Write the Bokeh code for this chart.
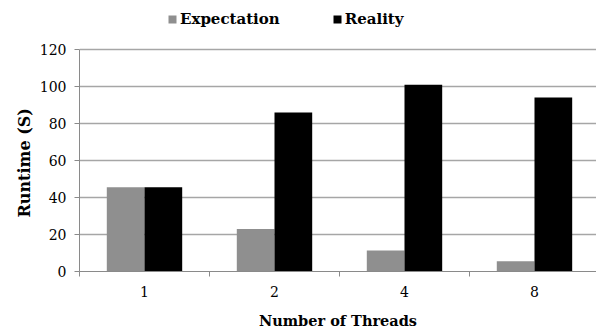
from bokeh.plotting import figure
from bokeh.models import ColumnDataSource, Range1d, FixedTicker, Legend, LegendItem, Title
from bokeh.embed import file_html
from bokeh.resources import INLINE

categories = ["1", "2", "4", "8"]
expectation = [45.5, 23.0, 11.3, 5.6]
reality = [45.5, 86.0, 101.0, 94.0]
y_ticks = [0, 20, 40, 60, 80, 100, 120]

FONT = "DejaVu Serif"
idx = list(range(len(categories)))
centers = [i + 0.5 for i in idx]
src = ColumnDataSource(dict(
    x_exp=[c - 0.145 for c in centers],
    x_real=[c + 0.145 for c in centers],
    exp=expectation,
    real=reality,
))

p = figure(width=596, height=335, output_backend="svg", toolbar_location=None,
           x_range=Range1d(0, 3.977), y_range=Range1d(0, 146.5),
           min_border_left=79, min_border_right=0, min_border_bottom=64,
           min_border_top=0)
p.outline_line_color = None
p.background_fill_color = "white"

r1 = p.vbar(x="x_exp", top="exp", width=0.29, source=src, color="#8f8f8f", line_color=None)
r2 = p.vbar(x="x_real", top="real", width=0.29, source=src, color="#000000", line_color=None)

# axes
p.xaxis.ticker = FixedTicker(ticks=centers, minor_ticks=[float(i) for i in range(len(categories) + 1)])
p.xaxis.major_label_overrides = {c: lab for c, lab in zip(centers, categories)}
p.xaxis.major_tick_line_color = None
p.xaxis.major_tick_out = 0
p.xaxis.major_tick_in = 0
p.xaxis.minor_tick_line_color = "#8a8a8a"
p.xaxis.minor_tick_out = 5
p.xaxis.minor_tick_in = 0
p.xaxis.major_label_standoff = 9
p.xaxis.axis_label = "Number of Threads"
p.xaxis.axis_label_standoff = 12

p.yaxis.ticker = FixedTicker(ticks=y_ticks, minor_ticks=[])
p.yaxis.bounds = (0, 120)
p.yaxis.major_tick_line_color = "#8a8a8a"
p.yaxis.major_tick_out = 5
p.yaxis.major_tick_in = 0
p.yaxis.major_label_standoff = 8

for ax in (p.xaxis, p.yaxis):
    ax.axis_line_color = "#8a8a8a"
    ax.axis_line_width = 1
    ax.major_label_text_font = FONT
    ax.major_label_text_font_size = "14px"
    ax.major_label_text_color = "black"
    ax.axis_label_text_font = FONT
    ax.axis_label_text_font_style = "bold"
    ax.axis_label_text_color = "black"
p.xaxis.axis_label_text_font_size = "14.5px"

ytitle = Title(text="Runtime (S)", align="left", offset=54,
               text_font=FONT, text_font_size="16px", text_font_style="bold",
               text_color="black", standoff=6)
p.add_layout(ytitle, "left")

p.xgrid.grid_line_color = None
p.ygrid.grid_line_color = "#a6a6a6"
p.ygrid.grid_line_width = 1.5
p.ygrid.ticker = FixedTicker(ticks=y_ticks)

legend = Legend(items=[LegendItem(label="Expectation", renderers=[r1]),
                       LegendItem(label="Reality", renderers=[r2])],
                orientation="horizontal", location=(88, 243))
legend.label_text_font = FONT
legend.label_text_font_size = "15px"
legend.label_text_font_style = "bold"
legend.label_text_color = "black"
legend.glyph_width = 10
legend.glyph_height = 10
legend.label_standoff = 3
legend.spacing = 52
legend.padding = 0
legend.margin = 0
legend.border_line_color = None
legend.background_fill_alpha = 0
p.add_layout(legend, "center")

open("out.html", "w").write(file_html(p, INLINE))
